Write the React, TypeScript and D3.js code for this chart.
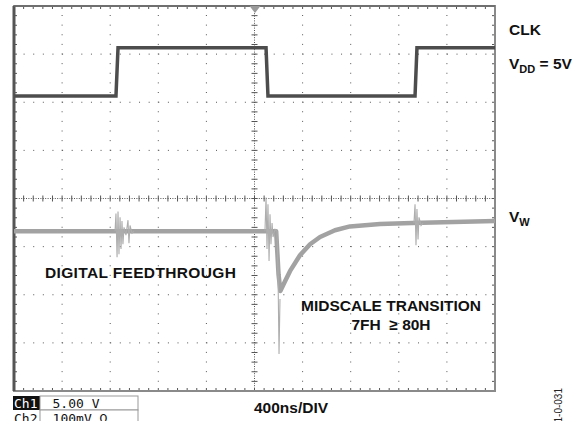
import React from 'react';
import * as d3 from 'd3';

const width = 587;
const height = 421;

// screen area of the scope graticule (10 x 8 divisions)
const plotLeft = 14;
const plotRight = 495;
const plotTop = 6;
const plotBottom = 391;

// 400ns/DIV, 10 divisions
const timeDomain: [number, number] = [0, 4000];
const divDomain: [number, number] = [-4, 4];

// CH1: clock, 5.00 V/div, ground marker at +2.13 div
const ch1Offset = 2.13;
const ch1VoltsPerDiv = 5;
const clkTime = [0, 848, 865, 2096, 2112, 3335, 3351, 4000];
const clkVolts = [0, 0, 5, 5, 0, 0, 5, 5];

// CH2: wiper output V_W, 100 mV/div, ground marker at -0.68 div
const ch2Offset = -0.68;
const ch2MvPerDiv = 100;
const vwTime = [0, 2180, 2200, 2215, 2254, 2295, 2378, 2462, 2545, 2669, 2794, 3044, 3310, 4000];
const vwMv = [0, 0, -90, -124, -104, -83, -50, -27, -12, 2, 10, 15, 17, 21];

// thin glitches on V_W
const feed1Time = [840, 848, 857, 865, 873, 882, 890, 898, 906, 915, 931, 948, 956, 965, 981, 998];
const feed1Mv = [0, 37, -54, 41, -48, 29, -37, 21, -27, 8, -8, 23, -25, 12, -4, 0];
const transTime = [2087, 2096, 2104, 2112, 2121, 2129, 2137, 2146, 2154, 2171, 2187, 2195, 2204, 2212];
const transMv = [0, 70, -37, 56, -62, 35, -27, 17, -12, 4, 0, -79, -255, -141];
const feed2Time = [3326, 3335, 3343, 3351, 3360, 3368, 3385, 3401];
const feed2Mv = [17, 56, -29, 46, -17, 29, 12, 17];

const labelFont = 'Liberation Sans, Arial, Helvetica, sans-serif';
const scopeFont = 'DejaVu Sans Mono, Liberation Mono, monospace';

const App: React.FC = () => {
  const x = d3.scaleLinear().domain(timeDomain).range([plotLeft, plotRight]);
  const y = d3.scaleLinear().domain(divDomain).range([plotBottom, plotTop]);

  const line = d3.line<[number, number]>()
    .x(d => x(d[0]))
    .y(d => y(d[1]));

  const ch1 = (t: number[], v: number[]) =>
    line(t.map((ti, i) => [ti, v[i] / ch1VoltsPerDiv + ch1Offset]));
  const ch2 = (t: number[], v: number[]) =>
    line(t.map((ti, i) => [ti, v[i] / ch2MvPerDiv + ch2Offset]));

  const xMajor = d3.range(1, 10).map(i => timeDomain[0] + i * 400);
  const yMajor = d3.range(-3, 4);
  const xMinor = d3.range(1, 50).map(i => i * 80);
  const yMinor = d3.range(-19, 20).map(i => i / 5);
  const xMid = x(2000);
  const yMid = y(0);

  return (
    <svg width={width} height={height}
      style={{ position: 'absolute', left: 0, top: 0, background: '#fff' }}>
      {/* graticule dots */}
      <g stroke="#555" strokeWidth={1}>
        {xMajor.filter(t => t !== 2000).map(t => (
          <line key={'vx' + t} x1={x(t)} x2={x(t)} y1={plotTop + 9} y2={plotBottom}
            strokeDasharray="1 8.625" />
        ))}
        {yMajor.filter(d => d !== 0).map(d => (
          <line key={'hy' + d} x1={plotLeft + 9.6} x2={plotRight} y1={y(d)} y2={y(d)}
            strokeDasharray="1 8.62" />
        ))}
        {/* centre cross */}
        <line x1={xMid} x2={xMid} y1={plotTop} y2={plotBottom} strokeDasharray="1 1.4" />
        <line x1={plotLeft} x2={plotRight} y1={yMid} y2={yMid} strokeDasharray="1 1.4" />
        {xMinor.map(t => (
          <line key={'cx' + t} x1={x(t)} x2={x(t)} y1={yMid - 3} y2={yMid + 3} />
        ))}
        {yMinor.map(d => (
          <line key={'cy' + d} x1={xMid - 3} x2={xMid + 3} y1={y(d)} y2={y(d)} />
        ))}
        {/* border ticks */}
        {xMinor.map(t => (
          <g key={'bx' + t}>
            <line x1={x(t)} x2={x(t)} y1={plotTop} y2={plotTop + 3} />
            <line x1={x(t)} x2={x(t)} y1={plotBottom} y2={plotBottom - 3} />
          </g>
        ))}
        {yMinor.map(d => (
          <g key={'by' + d}>
            <line x1={plotLeft} x2={plotLeft + 3} y1={y(d)} y2={y(d)} />
            <line x1={plotRight} x2={plotRight - 3} y1={y(d)} y2={y(d)} />
          </g>
        ))}
      </g>
      <rect x={plotLeft} y={plotTop} width={plotRight - plotLeft} height={plotBottom - plotTop}
        fill="none" stroke="#8a8a8a" strokeWidth={2} />
      <line x1={plotLeft} x2={plotLeft} y1={plotTop} y2={plotBottom} stroke="#555" strokeWidth={3} />
      <line x1={plotLeft} x2={plotRight} y1={plotTop} y2={plotTop} stroke="#666" strokeWidth={1.5} />

      {/* trigger marker */}
      <path d={`M${xMid - 5},${plotTop} L${xMid + 6},${plotTop} L${xMid + 0.5},${plotTop + 7} Z`}
        fill="#9a9a9a" />

      {/* traces */}
      <path d={ch2(vwTime, vwMv) ?? ''} fill="none" stroke="#a2a2a2" strokeWidth={4.5}
        strokeLinejoin="round" />
      <g fill="none" stroke="#adadad" strokeWidth={1.1}>
        <path d={ch2(feed1Time, feed1Mv) ?? ''} />
        <path d={ch2(transTime, transMv) ?? ''} />
        <path d={ch2(feed2Time, feed2Mv) ?? ''} />
      </g>
      <path d={ch1(clkTime, clkVolts) ?? ''} fill="none" stroke="#4d4d4d" strokeWidth={3.5} />

      {/* annotations */}
      <g fontFamily={labelFont} fontWeight="bold" fontSize={15.5} fill="#111">
        <text x={509} y={35}>CLK</text>
        <text x={509} y={69}>V<tspan fontSize={11} dy={4}>DD</tspan><tspan dy={-4}> = 5V</tspan></text>
        <text x={509} y={222}>V<tspan fontSize={11} dy={4}>W</tspan></text>
        <text x={45} y={278} letterSpacing={0.35}>DIGITAL FEEDTHROUGH</text>
        <text x={391} y={311} textAnchor="middle">MIDSCALE TRANSITION</text>
        <text x={391} y={330} textAnchor="middle">{'7FH\u00a0 ≥ 80H'}</text>
        <text x={291} y={413} textAnchor="middle">400ns/DIV</text>
      </g>

      {/* channel readout */}
      <rect x={13} y={396} width={27} height={14} fill="#111" />
      <rect x={40} y={396} width={98} height={14} fill="#fff" stroke="#999" strokeWidth={1} />
      <rect x={40} y={410} width={98} height={14} fill="#fff" stroke="#999" strokeWidth={1} />
      <g fontFamily={scopeFont} fontSize={13}>
        <text x={14} y={407.5} fill="#fff">Ch1</text>
        <text x={76} y={407.5} textAnchor="middle" fill="#111">5.00 V</text>
        <text x={14} y={423} fill="#111">Ch2</text>
        <text x={80} y={423} textAnchor="middle" fill="#111">100mV Ω</text>
      </g>

      <text transform="translate(562,388) rotate(-90)" textAnchor="end"
        fontFamily={labelFont} fontSize={10} fill="#222">01-0-031</text>
    </svg>
  );
};

export default App;
